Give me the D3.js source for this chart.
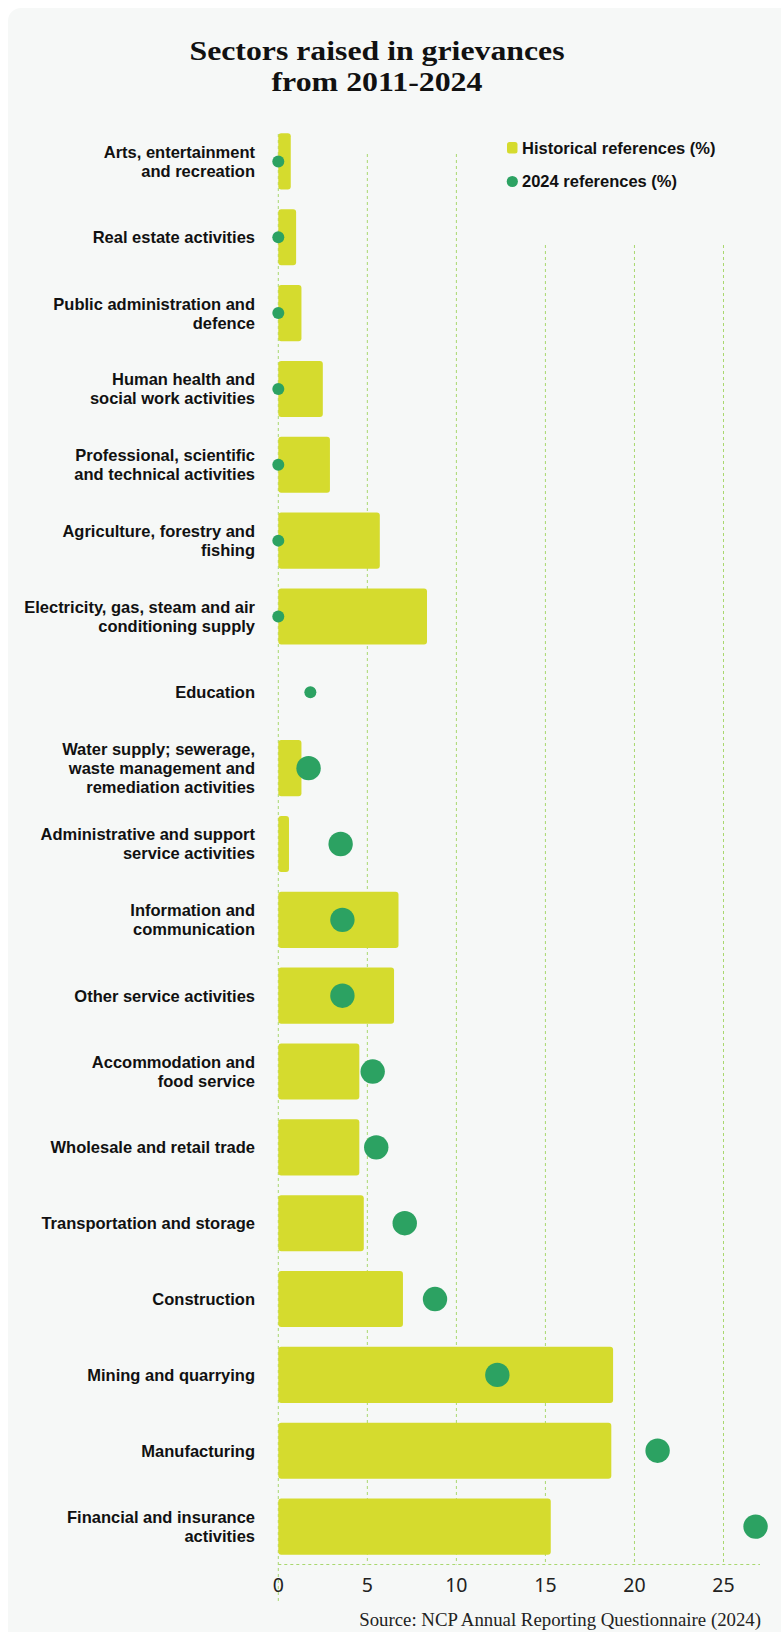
<!DOCTYPE html>
<html>
<head>
<meta charset="utf-8">
<script src="https://cdn.jsdelivr.net/npm/d3@7"></script>
<style>
  html, body { margin: 0; padding: 0; background: #ffffff; }
  svg { display: block; }
</style>
</head>
<body>
<svg id="chart" width="781" height="1632"></svg>
<script>
// Sector names ("\n" marks where a label wraps)
const categories = [
  "Arts, entertainment\nand recreation",
  "Real estate activities",
  "Public administration and\ndefence",
  "Human health and\nsocial work activities",
  "Professional, scientific\nand technical activities",
  "Agriculture, forestry and\nfishing",
  "Electricity, gas, steam and air\nconditioning supply",
  "Education",
  "Water supply; sewerage,\nwaste management and\nremediation activities",
  "Administrative and support\nservice activities",
  "Information and\ncommunication",
  "Other service activities",
  "Accommodation and\nfood service",
  "Wholesale and retail trade",
  "Transportation and storage",
  "Construction",
  "Mining and quarrying",
  "Manufacturing",
  "Financial and insurance\nactivities"
];

// Share of all historical references, 2011-2024 (%)
const historical = [0.7, 1.0, 1.3, 2.5, 2.9, 5.7, 8.35, 0, 1.3, 0.6, 6.75, 6.5, 4.55, 4.55, 4.8, 7.0, 18.8, 18.7, 15.3];

// Share of references filed in 2024 (%)
const refs2024 = [0, 0, 0, 0, 0, 0, 0, 1.8, 1.7, 3.5, 3.6, 3.6, 5.3, 5.5, 7.1, 8.8, 12.3, 21.3, 26.8];

const xTicks = [0, 5, 10, 15, 20, 25];

const title = ["Sectors raised in grievances", "from 2011-2024"];
const legendLabels = ["Historical references (%)", "2024 references (%)"];
const source = "Source: NCP Annual Reporting Questionnaire (2024)";

const BAR = "#d5db2e", DOT = "#2ca262", GRID = "#a9d86f";
const LABEL_FONT = "'Liberation Sans', Arial, sans-serif";
const SERIF = "'Liberation Serif', 'DejaVu Serif', serif";

const svg = d3.select("#chart");

// card background
svg.append("rect")
  .attr("x", 8).attr("y", 8)
  .attr("width", 820).attr("height", 1640)
  .attr("rx", 13)
  .attr("fill", "#f6f8f7");

const rows = categories.map((c, i) => ({ name: c, hist: historical[i], cur: refs2024[i] }));

const x = d3.scaleLinear().domain([0, 27.05]).range([278.3, 760]);
const y = d3.scaleBand()
  .domain(categories)
  .range([123.5, 1564.5])
  .paddingInner(0.26)
  .paddingOuter(0.13);

const axisY = 1564.5;

// label font size chosen so the widest label line spans about 235px
const labelSize = (function () {
  const probe = svg.append("text")
    .attr("font-family", LABEL_FONT).attr("font-weight", 700)
    .attr("font-size", 16)
    .text("Electricity, gas, steam and air");
  const w = probe.node().getComputedTextLength();
  probe.remove();
  return Math.min(16 * 235 / w, 16.5);
})();

// title (two lines, condensed to the widths of the heading block)
const titleWidths = [375, 211];
const titleText = svg.append("text")
  .attr("text-anchor", "middle")
  .attr("font-family", SERIF)
  .attr("font-weight", 700)
  .attr("font-size", 27)
  .attr("fill", "#111");
title.forEach((t, i) => {
  titleText.append("tspan")
    .attr("x", 377).attr("y", 60 + i * 31)
    .attr("textLength", titleWidths[i])
    .attr("lengthAdjust", "spacingAndGlyphs")
    .text(t);
});

// legend
const legend = svg.append("g").attr("transform", "translate(507,0)");
legend.append("rect")
  .attr("x", 0).attr("y", 142).attr("width", 10.5).attr("height", 11.5)
  .attr("rx", 2.5).attr("fill", BAR);
legend.append("circle")
  .attr("cx", 5.3).attr("cy", 181.5).attr("r", 5.6).attr("fill", DOT);
legendLabels.forEach((t, i) => {
  legend.append("text")
    .attr("x", 15).attr("y", 148 + i * 33.5)
    .attr("dy", "0.36em")
    .attr("font-family", LABEL_FONT)
    .attr("font-weight", 700)
    .attr("font-size", labelSize)
    .attr("fill", "#111")
    .text(t);
});

// vertical gridlines; those beneath the legend start below it
const grid = svg.append("g");
grid.selectAll("line.g")
  .data(xTicks.filter(d => d > 0))
  .join("line")
  .attr("class", "g")
  .attr("x1", d => x(d)).attr("x2", d => x(d))
  .attr("y1", d => x(d) > 500 ? 245 : 154)
  .attr("y2", axisY)
  .attr("stroke", GRID)
  .attr("stroke-width", 1)
  .attr("stroke-dasharray", "3,3");

// zero line
grid.append("line")
  .attr("x1", x(0)).attr("x2", x(0))
  .attr("y1", 134).attr("y2", 1603)
  .attr("stroke", GRID)
  .attr("stroke-width", 1)
  .attr("stroke-dasharray", "3,3");

// bottom baseline
grid.append("line")
  .attr("x1", x(0)).attr("x2", x.range()[1])
  .attr("y1", axisY).attr("y2", axisY)
  .attr("stroke", GRID)
  .attr("stroke-width", 1)
  .attr("stroke-dasharray", "3,3");

// historical bars
svg.append("g").selectAll("rect")
  .data(rows.filter(d => d.hist > 0))
  .join("rect")
  .attr("x", x(0))
  .attr("y", d => y(d.name))
  .attr("width", d => x(d.hist) - x(0))
  .attr("height", y.bandwidth())
  .attr("rx", 3)
  .attr("fill", BAR);

// 2024 dots: a small marker when either series is empty for the sector
svg.append("g").selectAll("circle")
  .data(rows)
  .join("circle")
  .attr("cx", d => x(d.cur))
  .attr("cy", d => y(d.name) + y.bandwidth() / 2)
  .attr("r", d => (d.cur === 0 || d.hist === 0) ? 6 : 12.2)
  .attr("fill", DOT);

// category labels, one text element per sector with a tspan per line
const lh = 19;
svg.append("g").selectAll("text")
  .data(rows)
  .join("text")
  .attr("text-anchor", "end")
  .attr("font-family", LABEL_FONT)
  .attr("font-weight", 700)
  .attr("font-size", labelSize)
  .attr("fill", "#111")
  .each(function (d) {
    const lines = d.name.split("\n");
    const cy = y(d.name) + y.bandwidth() / 2;
    const t = d3.select(this);
    lines.forEach((ln, j) => {
      t.append("tspan")
        .attr("x", 255)
        .attr("y", cy + (j - (lines.length - 1) / 2) * lh)
        .attr("dy", "0.36em")
        .text(ln);
    });
  });

// x-axis tick labels
svg.append("g").selectAll("text")
  .data(xTicks)
  .join("text")
  .attr("x", d => x(d))
  .attr("y", 1592)
  .attr("text-anchor", "middle")
  .attr("font-family", "'Noto Sans', 'DejaVu Sans', sans-serif")
  .attr("font-size", 19.5)
  .attr("fill", "#222")
  .text(d => d);

// source note, fitted to its width
const src = svg.append("text")
  .attr("x", 761).attr("y", 1626)
  .attr("text-anchor", "end")
  .attr("font-family", SERIF)
  .attr("font-size", 17)
  .attr("fill", "#222")
  .text(source);
(function () {
  const w = src.node().getComputedTextLength();
  src.attr("font-size", 17 * 402 / w);
})();
</script>
</body>
</html>
